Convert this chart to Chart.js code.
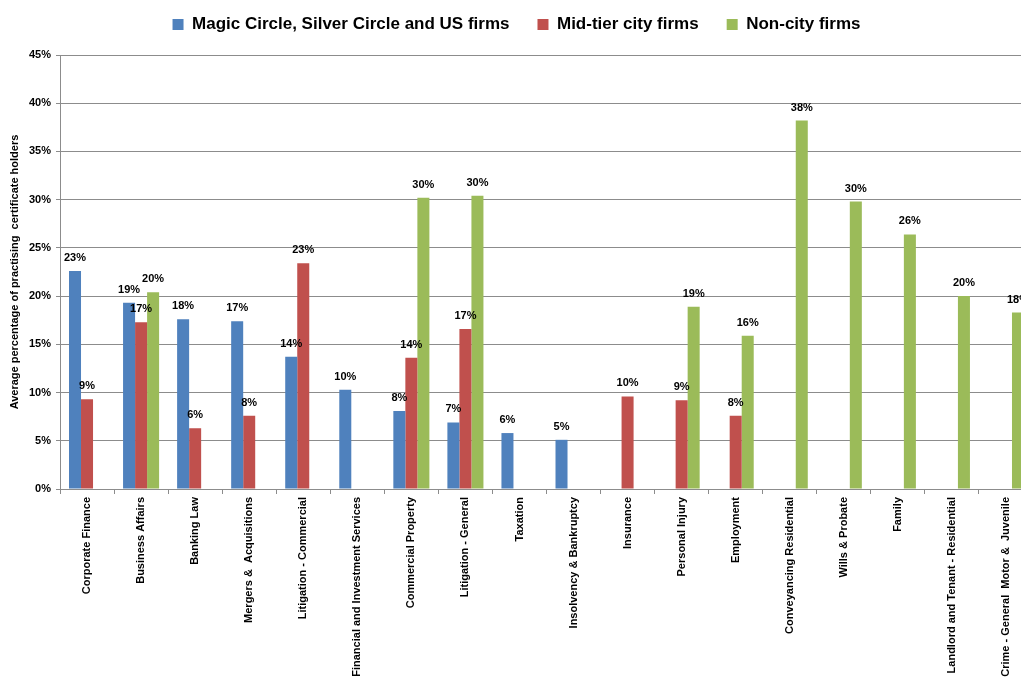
<!DOCTYPE html>
<html>
<head>
<meta charset="utf-8">
<script src="https://cdn.jsdelivr.net/npm/chart.js@4/dist/chart.umd.min.js"></script>
<style>
  html, body { margin: 0; padding: 0; background: #fff; overflow: hidden; }
  #wrap { position: relative; width: 1033px; height: 682px; }
</style>
</head>
<body>
<div id="wrap"><canvas id="practiceChart"></canvas></div>
<script>
// Practice areas, in the order shown along the x axis
const categories = [
  'Corporate Finance',
  'Business Affairs',
  'Banking Law',
  'Mergers &  Acquisitions',
  'Litigation - Commercial',
  'Financial and Investment Services',
  'Commercial Property',
  'Litigation - General',
  'Taxation',
  'Insolvency & Bankruptcy',
  'Insurance',
  'Personal Injury',
  'Employment',
  'Conveyancing Residential',
  'Wills & Probate',
  'Family',
  'Landlord and Tenant - Residential',
  'Crime - General  Motor &  Juvenile'
];

const seriesNames = [
  'Magic Circle, Silver Circle and US firms',
  'Mid-tier city firms',
  'Non-city firms'
];

// Average % of practising certificate holders (null = no bar)
const magicCircle = [22.6, 19.3, 17.6, 17.4, 13.7, 10.3, 8.1, 6.9, 5.8, 5.1,
  null, null, null, null, null, null, null, null];
const midTier = [9.3, 17.3, 6.3, 7.6, 23.4, null, 13.6, 16.6, null, null,
  9.6, 9.2, 7.6, null, null, null, null, null];
const nonCity = [null, 20.4, null, null, null, null, 30.2, 30.4, null, null,
  null, 18.9, 15.9, 38.2, 29.8, 26.4, 20.0, 18.3];

const yTicks = [0, 5, 10, 15, 20, 25, 30, 35, 40, 45];

const colors = ['#4F81BD', '#C0504D', '#9BBB59'];
const fontFamily = "Arial, 'Liberation Sans', sans-serif";
const gridColor = '#8c8c8c';

// draws the rounded percentage above every bar
const valueLabels = {
  id: 'valueLabels',
  afterDatasetsDraw(chart) {
    const ctx = chart.ctx;
    ctx.save();
    ctx.font = 'bold 11px ' + fontFamily;
    ctx.fillStyle = '#000';
    ctx.textAlign = 'center';
    ctx.textBaseline = 'middle';
    chart.data.datasets.forEach((ds, i) => {
      const meta = chart.getDatasetMeta(i);
      meta.data.forEach((bar, j) => {
        const v = ds.data[j];
        if (v === null || v === undefined) return;
        ctx.fillText(Math.round(v) + '%', bar.x, bar.y - 13);
      });
    });
    ctx.restore();
  }
};

// extra room between the legend and the plot area
const legendGap = {
  id: 'legendGap',
  beforeLayout(chart) {
    const lg = chart.legend;
    if (!lg || lg._gapAdded) return;
    const fit = lg.fit;
    lg.fit = function() {
      fit.call(this);
      this.height += 12;
    };
    lg._gapAdded = true;
  }
};

new Chart(document.getElementById('practiceChart'), {
  type: 'bar',
  data: {
    labels: categories,
    datasets: [
      { label: seriesNames[0], data: magicCircle, backgroundColor: colors[0] },
      { label: seriesNames[1], data: midTier, backgroundColor: colors[1] },
      { label: seriesNames[2], data: nonCity, backgroundColor: colors[2] }
    ]
  },
  options: {
    responsive: true,
    maintainAspectRatio: false,
    animation: false,
    categoryPercentage: 0.667,
    barPercentage: 1.0,
    layout: { padding: { top: -12, left: 0, right: 0, bottom: 0 } },
    plugins: {
      legend: {
        position: 'top',
        labels: {
          color: '#000',
          font: { family: fontFamily, size: 17, weight: 'bold' },
          boxWidth: 11,
          boxHeight: 11,
          padding: 28
        }
      },
      tooltip: { enabled: false }
    },
    scales: {
      x: {
        grid: {
          offset: true,
          drawOnChartArea: false,
          tickLength: 5,
          color: gridColor
        },
        border: { color: gridColor },
        ticks: {
          autoSkip: false,
          maxRotation: 90,
          minRotation: 90,
          padding: 3,
          color: '#000',
          font: { family: fontFamily, size: 11, weight: 'bold' }
        },
        afterFit(scale) { scale.height = 193; }
      },
      y: {
        min: 0,
        max: 45,
        afterBuildTicks(scale) {
          scale.ticks = yTicks.map(v => ({ value: v }));
        },
        grid: { color: gridColor, tickLength: 4 },
        border: { color: gridColor },
        ticks: {
          padding: 5,
          color: '#000',
          font: { family: fontFamily, size: 11, weight: 'bold' },
          callback: v => v + '%'
        },
        title: {
          display: true,
          text: 'Average percentage of practising  certificate holders',
          color: '#000',
          font: { family: fontFamily, size: 11, weight: 'bold' },
          padding: { top: 8, bottom: 4 }
        },
        afterFit(scale) { scale.width = 60; }
      }
    }
  },
  plugins: [valueLabels, legendGap]
});
</script>
</body>
</html>
